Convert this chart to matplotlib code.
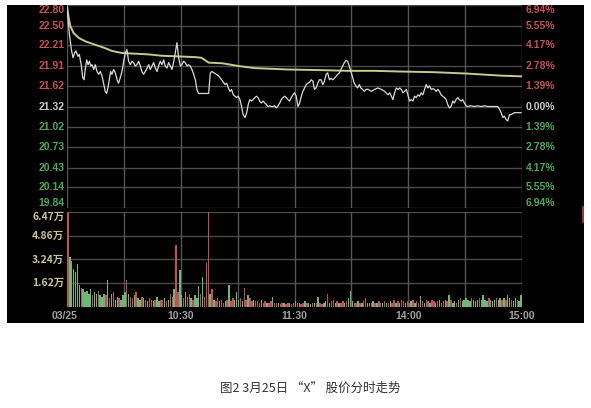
import matplotlib
matplotlib.use("Agg")
import matplotlib.pyplot as plt
import matplotlib.transforms as mtransforms
from matplotlib.patches import Rectangle
import numpy as np

# ---------------- data ----------------
# price line: (minute from 9:30 on the 240-minute trading clock, price)
price_min = [0, 1.2, 2.3, 3.2, 4.0, 4.7, 5.8, 6.5, 7.6, 8.3, 9.0, 9.7, 10.4, 11.1, 11.8,
             12.5, 13.2, 14.1, 14.9, 15.8, 16.7, 17.6, 18.5, 19.3, 20.2, 20.9, 21.6, 22.3,
             23.0, 23.7, 24.6, 25.5, 26.4, 27.2, 28.1, 29.0, 29.9, 30.8, 31.6, 32.5, 33.4,
             34.3, 35.1, 36.0, 36.9, 37.8, 38.7, 39.5, 40.4, 41.3, 42.2, 43.1, 43.9, 44.8,
             45.7, 46.6, 47.5, 48.3, 49.2, 50.1, 51.0, 51.8, 52.7, 53.6, 54.5, 55.4, 56.2,
             57.1, 58.0, 58.9, 59.8, 60.6, 61.5, 62.4, 63.3, 64.1, 65.0, 65.9, 66.8, 67.7,
             68.5, 69.4, 72.1, 74.7, 75.6, 76.4, 78.2, 79.8, 81.6, 83.3, 84.2, 85.1, 86.0,
             86.8, 87.7, 88.6, 89.4, 90.3, 91.2, 92.0, 92.9, 93.9, 94.8, 95.6, 96.4, 97.3,
             98.2, 99.1, 99.9, 100.8, 101.6, 102.5, 103.4, 104.3, 105.2, 106.0, 106.9, 107.8,
             108.7, 109.5, 110.4, 111.3, 112.2, 113.0, 113.9, 114.8, 115.7, 116.5, 117.4,
             118.3, 119.2, 120.0, 120.9, 121.8, 122.7, 123.6, 124.4, 125.3, 126.2, 127.0,
             127.9, 128.8, 129.7, 130.5, 131.4, 132.3, 133.1, 134.0, 134.9, 135.8, 136.7,
             137.5, 138.4, 139.3, 140.2, 141.0, 141.9, 142.8, 143.7, 144.5, 145.4, 146.3,
             147.2, 148.0, 148.9, 149.8, 150.7, 151.5, 152.4, 153.3, 154.2, 155.0, 155.9,
             156.8, 157.7, 158.8, 160.5, 162.3, 164.0, 165.8, 167.6, 169.3, 170.2, 171.1,
             171.9, 172.8, 173.7, 174.6, 175.5, 176.3, 177.2, 178.1, 179.0, 179.8, 180.7,
             181.6, 182.5, 183.3, 184.2, 185.1, 186.0, 186.8, 187.7, 188.6, 189.5, 190.3,
             191.2, 192.1, 193.0, 193.8, 194.7, 195.6, 196.5, 197.3, 198.2, 199.1, 200.0,
             200.8, 201.7, 202.6, 203.5, 204.3, 205.2, 206.1, 207.0, 207.8, 208.7, 209.6,
             210.5, 211.3, 213.1, 214.9, 216.6, 218.4, 220.2, 221.9, 223.7, 225.5, 227.2,
             228.1, 229.0, 229.9, 230.7, 231.6, 232.5, 233.4, 234.2, 236.0, 237.7, 239.5]
price_val = [22.76, 22.39, 22.15, 22.03, 22.10, 22.13, 22.05, 22.08, 21.91, 21.74, 21.71, 21.88,
             22.00, 21.93, 21.98, 21.91, 21.93, 21.86, 21.93, 21.83, 21.79, 21.83, 21.76, 21.66,
             21.54, 21.51, 21.59, 21.71, 21.83, 21.79, 21.86, 21.81, 21.71, 21.66, 21.74, 21.83,
             21.98, 22.10, 22.15, 21.98, 21.93, 21.98, 21.96, 21.91, 21.93, 21.98, 21.91, 21.83,
             21.79, 21.83, 21.88, 21.93, 21.86, 21.91, 21.96, 21.88, 21.83, 21.91, 21.98, 21.93,
             22.00, 21.91, 21.88, 21.96, 21.91, 21.86, 21.96, 22.10, 22.25, 22.03, 21.91, 21.93,
             21.98, 21.96, 21.91, 21.93, 21.91, 21.86, 21.79, 21.71, 21.57, 21.51, 21.51, 21.51,
             21.81, 21.83, 21.80, 21.77, 21.71, 21.64, 21.66, 21.59, 21.54, 21.57, 21.49, 21.47,
             21.45, 21.47, 21.42, 21.33, 21.20, 21.16, 21.23, 21.35, 21.42, 21.40, 21.42, 21.45,
             21.47, 21.45, 21.40, 21.37, 21.40, 21.37, 21.35, 21.32, 21.33, 21.32, 21.32, 21.33,
             21.30, 21.33, 21.37, 21.42, 21.45, 21.47, 21.45, 21.42, 21.40, 21.45, 21.49, 21.52,
             21.47, 21.32, 21.37, 21.47, 21.54, 21.59, 21.64, 21.66, 21.67, 21.71, 21.69, 21.57,
             21.59, 21.66, 21.71, 21.71, 21.64, 21.69, 21.79, 21.81, 21.71, 21.73, 21.71, 21.73,
             21.76, 21.79, 21.81, 21.86, 21.91, 21.96, 21.99, 21.98, 21.91, 21.83, 21.74, 21.66,
             21.62, 21.59, 21.64, 21.59, 21.57, 21.54, 21.57, 21.57, 21.54, 21.57, 21.59, 21.57,
             21.54, 21.49, 21.52, 21.47, 21.42, 21.52, 21.59, 21.57, 21.59, 21.57, 21.52, 21.54,
             21.57, 21.49, 21.40, 21.42, 21.40, 21.47, 21.45, 21.49, 21.47, 21.52, 21.49, 21.57,
             21.64, 21.59, 21.62, 21.57, 21.58, 21.57, 21.54, 21.57, 21.54, 21.49, 21.47, 21.45,
             21.42, 21.35, 21.30, 21.32, 21.40, 21.37, 21.42, 21.45, 21.42, 21.40, 21.42, 21.37,
             21.33, 21.32, 21.33, 21.32, 21.33, 21.32, 21.33, 21.32, 21.32, 21.32, 21.32, 21.28,
             21.23, 21.16, 21.18, 21.13, 21.11, 21.20, 21.20, 21.23, 21.23, 21.23]

# average-price line
avg_min = [0, 0.9, 1.8, 3.5, 6.2, 9.7, 14.9, 20.2, 23.7, 29.0, 36.0, 43.0, 50.0, 59.0, 67.7,
           71.0, 74.7, 82.0, 90.5, 99.0, 116.0, 134.0, 148.0, 162.0, 176.0, 194.0, 211.0,
           229.0, 239.5]
avg_val = [22.78, 22.61, 22.49, 22.39, 22.32, 22.27, 22.22, 22.17, 22.13, 22.10, 22.09, 22.08,
           22.06, 22.05, 22.04, 22.03, 21.96, 21.95, 21.91, 21.88, 21.86, 21.85, 21.84, 21.84,
           21.83, 21.82, 21.80, 21.77, 21.76]

# per-minute volume (unit: 万), 240 minutes
volume = [6.6, 3.4, 3.1, 2.6, 2.4, 2.9, 1.5, 1.3, 1.2, 1.0,
          1.1, 0.9, 1.2, 0.8, 1.0, 0.9, 1.1, 0.8, 0.7, 0.9,
          0.8, 1.85, 0.6, 0.9, 1.0, 0.5, 0.7, 0.6, 0.5, 0.8,
          1.0, 1.85, 0.9, 0.7, 0.6, 0.8, 1.0, 0.6, 0.5, 0.7,
          0.6, 0.5, 0.4, 0.6, 0.5, 0.4, 0.5, 0.7, 0.4, 0.5,
          0.5, 0.6, 0.4, 0.5, 0.9, 0.7, 1.2, 4.2, 1.0, 2.5,
          0.8, 0.6, 1.0, 0.7, 0.9, 0.6, 0.5, 0.8, 0.6, 1.4,
          0.9, 2.05, 0.7, 3.0, 6.45, 0.9, 1.25, 0.5, 0.4, 0.6,
          0.4, 0.5, 0.3, 0.4, 0.5, 1.5, 0.4, 0.6, 0.5, 1.05,
          0.5, 0.6, 0.4, 1.3, 0.5, 0.8, 0.6, 0.4, 0.5, 0.4,
          0.4, 0.3, 0.5, 0.3, 0.4, 0.3, 0.3, 0.4, 0.7, 0.3,
          0.3, 0.3, 0.2, 0.3, 0.3, 0.2, 0.3, 0.3, 0.2, 0.3,
          0.4, 0.3, 0.3, 0.2, 0.3, 0.4, 0.3, 0.3, 0.2, 0.3,
          0.3, 0.3, 0.65, 0.3, 0.2, 0.3, 0.4, 0.9, 0.3, 0.4,
          0.5, 0.3, 0.4, 0.3, 0.3, 0.4, 0.3, 0.4, 0.6, 1.1,
          0.4, 0.3, 0.3, 0.4, 0.3, 0.3, 0.4, 0.6, 0.3, 0.3,
          0.3, 0.4, 0.3, 0.3, 0.4, 0.3, 0.3, 0.4, 0.3, 0.3,
          0.4, 0.3, 0.5, 0.3, 0.4, 0.3, 0.5, 0.4, 0.3, 0.4,
          0.3, 0.4, 0.5, 0.3, 0.4, 0.3, 0.75, 0.4, 0.3, 0.5,
          0.4, 0.3, 0.5, 0.4, 0.3, 0.4, 0.5, 0.3, 0.4, 0.5,
          0.4, 0.8, 0.5, 0.3, 0.4, 0.3, 0.5, 0.6, 0.4, 0.5,
          0.6, 0.5, 0.4, 0.6, 0.5, 0.4, 0.5, 0.6, 0.5, 0.8,
          0.5, 0.4, 0.6, 0.5, 0.4, 0.5, 0.6, 0.5, 0.6, 0.5,
          0.6, 0.5, 0.8, 0.6, 0.5, 0.4, 0.6, 0.5, 0.4, 0.85]
# bar colours per minute: r = up (red), g = down (green)
vol_updown = ("rggggggrgg" "gggrggrggg" "rgrgrggrgg" "grgrrgrggr" "grgrrgrggr"
              "rgrgrrgrrg" "grgrrgrggg" "rgrrrgrgrr" "grrgrgrrgg" "grgrrgrrgr"
              "rrgrrgrrgr" "rgrrgrrgrr" "grgrrgrggr" "grgrrggrgr" "rgrgrrgrgg"
              "grrgrgrrgr" "rgrgrrgrgr" "grrgrgrrgr" "rgrgrrgrgr" "rgrrgrgrrg"
              "rgrggrgrgg" "gggrgggrgg" "ggrgggrggr" "grggrggrgg")

# axes labels
price_ticks = [22.80, 22.50, 22.21, 21.91, 21.62, 21.32, 21.02, 20.73, 20.43, 20.14, 19.84]
pct_labels = ["6.94%", "5.55%", "4.17%", "2.78%", "1.39%", "0.00%",
              "1.39%", "2.78%", "4.17%", "5.55%", "6.94%"]
vol_ticks = [6.47, 4.86, 3.24, 1.62]
vol_labels = ["6.47万", "4.86万", "3.24万", "1.62万"]
time_ticks = [0, 30, 60, 90, 120, 150, 180, 210, 240]
time_labels = {0: "03/25", 60: "10:30", 120: "11:30", 180: "14:00", 240: "15:00"}
caption = "图2 3月25日 “X” 股价分时走势"

# ---------------- figure ----------------
W, H = 591, 408
fig = plt.figure(figsize=(W / 100, H / 100), dpi=100)
fig.patch.set_facecolor("white")

def box(l, t, r, b):
    return [l / W, 1 - b / H, (r - l) / W, (b - t) / H]

fig.add_artist(Rectangle((7 / W, 1 - 323 / H), 577 / W, 318 / H,
                         transform=fig.transFigure, facecolor="black",
                         edgecolor="none", zorder=0))

RED = "#c4505a"
GREEN = "#4fa85a"
GREY = "#cccccc"
GRID_H = "#4a4a4a"
GRID_V = "#555555"
FONT = ["Liberation Sans", "DejaVu Sans"]

ax = fig.add_axes(box(67, 5, 522, 208))
ax.set_facecolor("none")
ax.set_xlim(0, 240)
ax.set_ylim(19.84, 22.80)
for s in ax.spines.values():
    s.set_visible(False)
ax.set_xticks([]); ax.set_yticks([])
for v in price_ticks:
    ax.axhline(v, color=GRID_H, lw=1.0, zorder=1)
for t in time_ticks:
    ax.axvline(t, color=GRID_V, lw=1.0, zorder=1)
ax.plot(avg_min, avg_val, color="#c9c98e", lw=1.4, zorder=3)
ax.plot(price_min, price_val, color="#d9d9d9", lw=0.9, zorder=4)

tl = mtransforms.blended_transform_factory(ax.transAxes, ax.transData)
for i, (v, p) in enumerate(zip(price_ticks, pct_labels)):
    if v > 21.33:
        c = RED
    elif v < 21.31:
        c = GREEN
    else:
        c = GREY
    va = "center"
    if i == 0:
        va = "top"
    elif i == len(price_ticks) - 1:
        va = "bottom"
    ax.text(-0.006, v, f"{v:.2f}", transform=tl, ha="right", va=va, color=c,
            fontsize=7.5, fontweight="bold", family=FONT, clip_on=False)
    ax.text(1.008, v, p, transform=tl, ha="left", va=va, color=c,
            fontsize=7.5, fontweight="bold", family=FONT, clip_on=False)

axv = fig.add_axes(box(67, 212, 522, 307))
axv.set_facecolor("none")
axv.set_xlim(0, 240)
axv.set_ylim(0, 6.47)
for s in axv.spines.values():
    s.set_visible(False)
axv.set_xticks([]); axv.set_yticks([])
for v in vol_ticks:
    axv.axhline(v, color=GRID_H, lw=1.0, zorder=1)
for t in time_ticks:
    axv.axvline(t, color=GRID_V, lw=1.0, zorder=1)
xs = np.arange(len(volume)) + 0.5
cols = ["#c0505a" if c == "r" else "#6cb874" for c in vol_updown]
axv.bar(xs, volume, width=0.75, color=cols, zorder=3, clip_on=True)

tlv = mtransforms.blended_transform_factory(axv.transAxes, axv.transData)
for i, (v, lab) in enumerate(zip(vol_ticks, vol_labels)):
    axv.text(-0.006, v, lab, transform=tlv, ha="right",
             va="top" if i == 0 else "center", color="#c8c39a",
             fontsize=7.5, fontweight="bold", family=["Noto Sans CJK SC", "DejaVu Sans"],
             clip_on=False)

for t, lab in time_labels.items():
    ha = "left" if t == 0 else "center"
    xoff = -0.033 if t == 0 else 0
    axv.text(t / 240 + xoff, -0.04, lab, transform=axv.transAxes, ha=ha, va="top",
             color="#a0a0a0", fontsize=7.5, fontweight="bold", family=FONT)

# small red marker at the right border
fig.add_artist(plt.Line2D([583 / W, 583 / W], [1 - 222 / H, 1 - 207 / H],
                          transform=fig.transFigure, color="#b04050", lw=1.2))

fig.text(310 / W, 1 - 388 / H, caption, ha="center", va="center", color="#333333",
         fontsize=9, family=["Noto Sans CJK SC", "DejaVu Sans"])

fig.savefig("out.png", dpi=100, facecolor="white")
